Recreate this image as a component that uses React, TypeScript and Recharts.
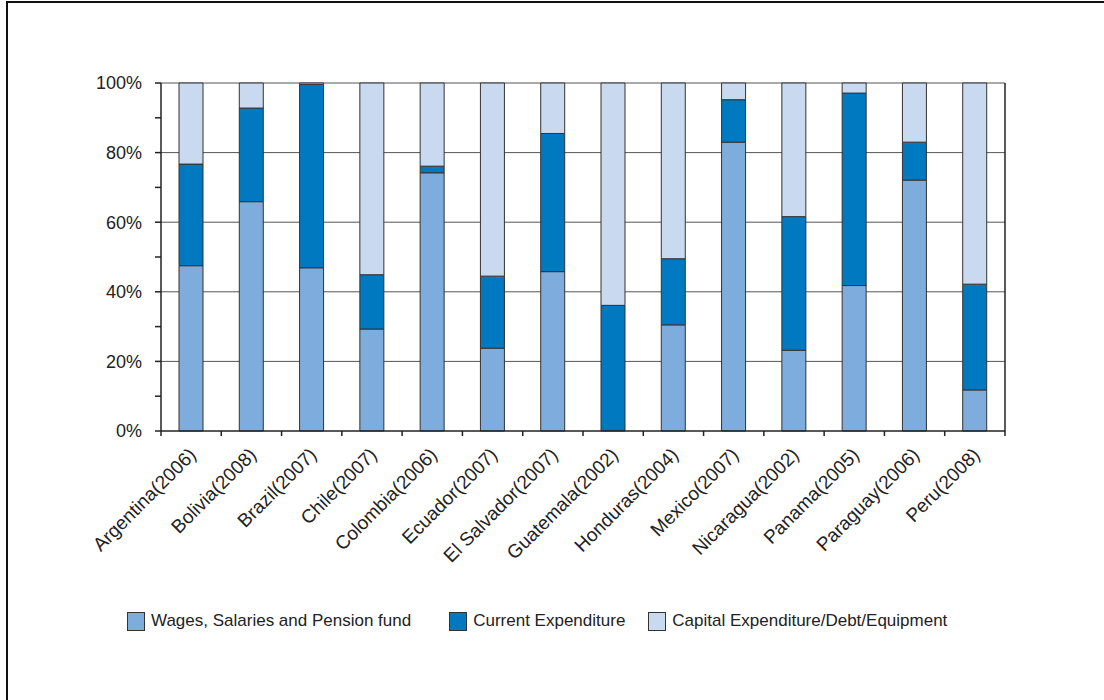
import React from "react";
import {
  BarChart,
  Bar,
  XAxis,
  YAxis,
  CartesianGrid,
  Legend,
} from "recharts";

const categories = [
  "Argentina(2006)",
  "Bolivia(2008)",
  "Brazil(2007)",
  "Chile(2007)",
  "Colombia(2006)",
  "Ecuador(2007)",
  "El Salvador(2007)",
  "Guatemala(2002)",
  "Honduras(2004)",
  "Mexico(2007)",
  "Nicaragua(2002)",
  "Panama(2005)",
  "Paraguay(2006)",
  "Peru(2008)",
];

const wages = [47.5, 65.9, 46.9, 29.3, 74.2, 23.8, 45.8, 0, 30.5, 83.0, 23.2, 41.8, 72.1, 11.8];
const current = [29.2, 26.9, 52.7, 15.6, 1.9, 20.7, 39.7, 36.1, 19.0, 12.2, 38.4, 55.3, 10.9, 30.4];
const capital = [23.3, 7.2, 0.4, 55.1, 23.9, 55.5, 14.5, 63.9, 50.5, 4.8, 38.4, 2.9, 17.0, 57.8];

const yTicks = [0, 10, 20, 30, 40, 50, 60, 70, 80, 90, 100];
const gridValues = [20, 40, 60, 80, 100];

const series = [
  { key: "wages", label: "Wages, Salaries and Pension fund", color: "#7eacdc" },
  { key: "current", label: "Current Expenditure", color: "#0079c1" },
  { key: "capital", label: "Capital Expenditure/Debt/Equipment", color: "#c9d9ef" },
];

const data = categories.map((name, i) => ({
  name,
  wages: wages[i],
  current: current[i],
  capital: capital[i],
}));

const FONT = "'Liberation Sans', Arial, sans-serif";

// category labels + boundary tick marks between bars
const CountryTick = (props: any) => {
  const { x, y, payload, index } = props;
  const half = payload?.offset ?? 0;
  const last = index === categories.length - 1;
  return (
    <g>
      <line x1={x - half} x2={x - half} y1={y} y2={y + 5} stroke="#222" strokeWidth={1.5} />
      {last && <line x1={x + half} x2={x + half} y1={y} y2={y + 5} stroke="#222" strokeWidth={1.5} />}
      <text
        transform={`translate(${x + 6},${y + 25}) rotate(-45)`}
        textAnchor="end"
        fontSize={19}
        fill="#222"
        fontFamily={FONT}
      >
        {payload.value}
      </text>
    </g>
  );
};

const PctTick = (props: any) => {
  const { x, y, payload } = props;
  if (payload.value % 20 !== 0) return <g />;
  return (
    <text x={x} y={y} dy="0.35em" textAnchor="end" fontSize={18} fill="#222" fontFamily={FONT}>
      {payload.value}%
    </text>
  );
};

const LegendBox = () => {
  const gaps = [38, 23, 0];
  return (
    <div style={{ display: "flex", alignItems: "center", fontFamily: FONT, fontSize: 17, color: "#222" }}>
      {series.map((s, i) => (
        <div key={s.key} style={{ display: "flex", alignItems: "center", marginRight: gaps[i] }}>
          <span
            style={{
              display: "inline-block",
              width: 16,
              height: 17,
              background: s.color,
              border: "1px solid #333",
              marginRight: 6,
            }}
          />
          <span>{s.label}</span>
        </div>
      ))}
    </div>
  );
};

export default function App() {
  return (
    <div style={{ position: "fixed", left: 0, top: 0, width: 1104, height: 700, overflow: "hidden", background: "#fff" }}>
      <div
        style={{
          position: "absolute",
          left: 6,
          top: 1,
          width: 1200,
          height: 800,
          borderLeft: "2px solid #111",
          borderTop: "2px solid #111",
        }}
      />
      <div style={{ position: "absolute", left: 0, top: 0 }}>
        <BarChart
          width={1104}
          height={700}
          data={data}
          margin={{ top: 83, right: 98, left: 0, bottom: 0 }}
          barSize={24}
        >
          <CartesianGrid vertical={false} horizontalValues={gridValues} stroke="#555" strokeWidth={1} />
          <XAxis
            dataKey="name"
            height={269}
            interval={0}
            tickLine={false}
            tickSize={0}
            tickMargin={0}
            axisLine={{ stroke: "#222", strokeWidth: 1.5 }}
            tick={<CountryTick />}
          />
          <YAxis
            width={161}
            domain={[0, 100]}
            ticks={yTicks}
            interval={0}
            tickSize={6}
            tickMargin={13}
            tickLine={{ stroke: "#222", strokeWidth: 1.5 }}
            axisLine={{ stroke: "#222", strokeWidth: 1.5 }}
            tick={<PctTick />}
          />
          <YAxis
            yAxisId="right"
            orientation="right"
            width={1}
            domain={[0, 100]}
            tick={false}
            tickLine={false}
            axisLine={{ stroke: "#222", strokeWidth: 1.5 }}
          />
          <Legend
            layout="horizontal"
            verticalAlign="middle"
            align="center"
            wrapperStyle={{ top: 611, left: 127, width: "auto" }}
            content={<LegendBox />}
          />
          {series.map((s) => (
            <Bar
              key={s.key}
              dataKey={s.key}
              name={s.label}
              stackId="a"
              fill={s.color}
              stroke="#333"
              strokeWidth={1}
              isAnimationActive={false}
            />
          ))}
        </BarChart>
      </div>
    </div>
  );
}
